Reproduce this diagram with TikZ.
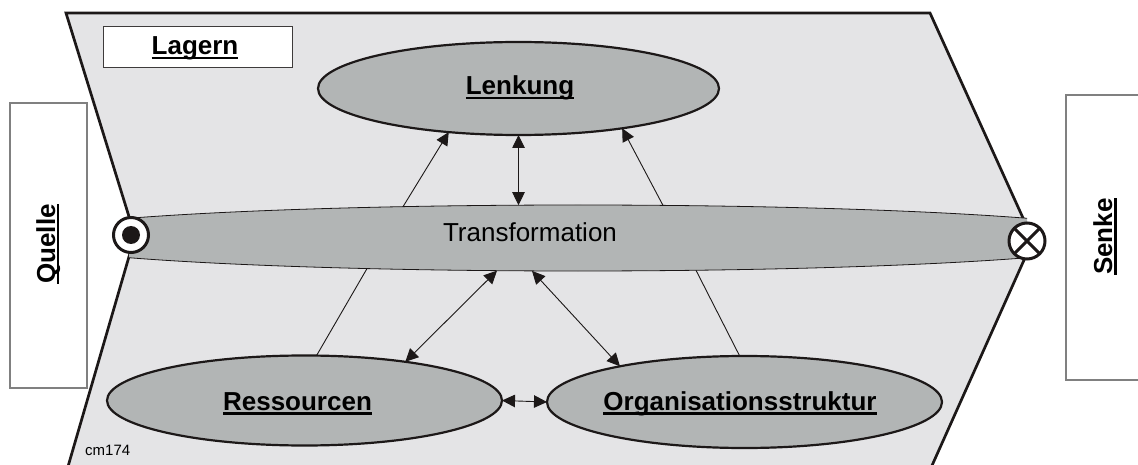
\documentclass[tikz,border=0pt]{standalone}
\usepackage{fontspec}
\setmainfont{Liberation Sans}
\usetikzlibrary{shapes.geometric,arrows.meta}
\definecolor{light}{RGB}{228,228,230}
\definecolor{mid}{RGB}{178,181,181}
\definecolor{ink}{RGB}{28,24,24}
\newcommand{\myul}[1]{\sbox0{#1}\rlap{\rule[-4.5pt]{\wd0}{2.3pt}}\usebox0}
\begin{document}
\begin{tikzpicture}[x=1pt,y=-1pt,
  lbl/.style={font=\fontsize{26}{30}\selectfont\bfseries, inner sep=0, anchor=base, text=black},
  plain/.style={font=\fontsize{26}{30}\selectfont, inner sep=0, anchor=base, text=black},
  oval/.style={ellipse, draw=ink, line width=2.2pt, fill=mid, inner sep=0, outer sep=0},
  conn/.style={line width=0.9pt, draw=ink},
  arr/.style={conn, -{Triangle[length=13pt,width=12.5pt]}},
  darr/.style={conn, {Triangle[length=13pt,width=12.5pt]}-{Triangle[length=13pt,width=12.5pt]}},
  sidebox/.style={draw=gray, line width=1.5pt, fill=white, inner sep=0},
]
\useasboundingbox (0,0) rectangle (1138,465);
\clip (0,0) rectangle (1138,465);

% outer chevron
\draw[fill=light, draw=ink, line width=2.7pt, line join=miter]
  (66,13) -- (930,13) -- (1033,240) -- (930,470) -- (67,470) -- (135,236) -- cycle;

% transformation band
\begin{scope}
  \clip (129,150) rectangle (1027,320);
  \draw[fill=mid, draw=ink, line width=0.8pt] (578,238) ellipse [x radius=560, y radius=33];
\end{scope}
\coordinate (tA) at (403,206.7);
\coordinate (tB) at (518.5,205.2);
\coordinate (tC) at (663,205.4);
\coordinate (bA) at (367,268.6);
\coordinate (bB) at (497,270.7);
\coordinate (bC) at (532,270.9);
\coordinate (bD) at (696,270.3);
\node[plain] (trans) at (530,242) {Transformation};

% source and sink symbols
\node[circle, draw=ink, line width=3pt, fill=white, minimum size=35pt, inner sep=0, outer sep=0] (src) at (131,235) {};
\fill[ink] (src.center) circle [radius=9pt];
\node[circle, draw=ink, line width=3pt, fill=white, minimum size=36pt, inner sep=0, outer sep=0] (snk) at (1027,241) {};
\draw[ink, line width=3pt] (snk.45) -- (snk.225) (snk.135) -- (snk.315);

% ellipses
\node[oval, minimum width=401pt, minimum height=93pt] (lenk) at (518.5,88.5) {};
\node[oval, minimum width=395pt, minimum height=90pt] (ress) at (304.5,400.5) {};
\node[oval, minimum width=395pt, minimum height=92pt] (org) at (744.5,402) {};
\node[lbl] at (520,95) {\myul{Lenkung}};
\node[lbl] at (297.5,410) {\myul{Ressourcen}};
\node[lbl] at (740,410) {\myul{Organisationsstruktur}};

% connectors
\draw[arr] (tA) -- (lenk.212);
\draw[darr] (tB) -- (lenk.south);
\draw[arr] (tC) -- (lenk.339);
\draw[conn] (bA) -- (ress.75);
\draw[darr] (bB) -- (ress.21);
\draw[darr] (bC) -- (org.164);
\draw[conn] (bD) -- (org.96);
\draw[darr] (ress.east) -- (org.west);

% label boxes
\node[draw=ink!85, line width=1pt, fill=white, minimum width=189pt, minimum height=41pt, inner sep=0] (lag) at (197.5,47.5) {};
\node[lbl] at (195,55) {\myul{Lagern}};
\node[sidebox, minimum width=77pt, minimum height=285pt] (quelle) at (48.5,245.5) {};
\node[lbl, rotate=90] at (55,244) {\myul{Quelle}};
\node[sidebox, minimum width=80pt, minimum height=285pt] (senke) at (1106,237.5) {};
\node[lbl, rotate=90] at (1112,236.5) {\myul{Senke}};

\node[font=\fontsize{15}{18}\selectfont, inner sep=0, anchor=base west] (code) at (85,455) {cm174};
\end{tikzpicture}
\end{document}
